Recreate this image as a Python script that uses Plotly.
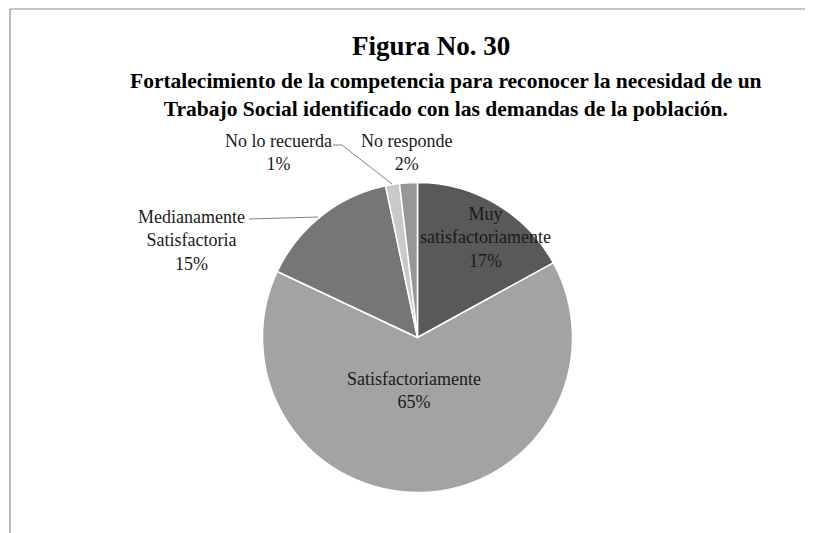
import plotly.graph_objects as go

W, H = 813, 533

# ---- data ----
categories = ["Muy satisfactoriamente", "Satisfactoriamente",
              "Medianamente Satisfactoria", "No lo recuerda", "No responde"]
values = [17, 65, 14.7, 1.45, 1.85]          # percent
colors = ["#595959", "#a3a3a3", "#767676", "#c9c9c9", "#979797"]
label_lines = [["Muy", "satisfactoriamente"], ["Satisfactoriamente"],
               ["Medianamente", "Satisfactoria"], ["No lo recuerda"], ["No responde"]]

title = "Figura No. 30"
subtitle = ["Fortalecimiento de la competencia para reconocer la necesidad de un",
            "Trabajo Social identificado con las demandas de la población."]

total = sum(values)
pct_text = ["{:.0f}%".format(v / total * 100) for v in values]

OFF = 8  # page body margin


def px(x):
    return (x - OFF) / W


def py(y):
    return 1 - (y - OFF) / H


cx, cy, r = 417.5, 337.5, 155

fig = go.Figure(go.Pie(
    labels=categories, values=values, sort=False, direction="clockwise",
    rotation=0, textinfo="none", hoverinfo="label+percent",
    marker=dict(colors=colors, line=dict(color="white", width=1.5)),
    domain=dict(x=[px(cx - r), px(cx + r)], y=[py(cy + r), py(cy - r)]),
    showlegend=False,
))

serif = "Liberation Serif"
lab_font = dict(family=serif, size=18, color="#1a1a1a")

# label positions (text anchor centres, pixels)
label_pos = [(485, 238), (414, 391), (191, 240), (278, 152), (406, 152)]

anns = []
for lines, pct, (lx, ly) in zip(label_lines, pct_text, label_pos):
    anns.append(dict(x=px(lx), y=py(ly), xref="paper", yref="paper",
                     text="<br>".join(lines + [pct]), showarrow=False,
                     xanchor="center", yanchor="middle", align="center",
                     font=lab_font))

anns.append(dict(x=px(431), y=py(46), xref="paper", yref="paper", text="<b>" + title + "</b>",
                 showarrow=False, xanchor="center", yanchor="middle",
                 font=dict(family=serif, size=27, color="black")))
anns.append(dict(x=px(446), y=py(95), xref="paper", yref="paper",
                 text="<b>" + "<br>".join(subtitle) + "</b>",
                 showarrow=False, xanchor="center", yanchor="middle", align="center",
                 font=dict(family=serif, size=21.5, color="black")))

line_col = "#808080"
shapes = [
    # chart frame (top and left)
    dict(type="line", xref="paper", yref="paper", x0=px(10), x1=px(830), y0=py(9), y1=py(9),
         line=dict(color="#8c8c8c", width=1.2)),
    dict(type="line", xref="paper", yref="paper", x0=px(10), x1=px(10), y0=py(9), y1=py(560),
         line=dict(color="#8c8c8c", width=1.2)),
    # leader lines
    dict(type="line", xref="paper", yref="paper", x0=px(249), x1=px(318), y0=py(219), y1=py(217),
         line=dict(color=line_col, width=1)),
    dict(type="path", xref="paper", yref="paper",
         path="M {} {} L {} {} L {} {}".format(px(333), py(145), px(342), py(145), px(392), py(184)),
         line=dict(color=line_col, width=1)),
]

fig.update_layout(width=W, height=H, margin=dict(l=0, r=0, t=0, b=0),
                  paper_bgcolor="white", plot_bgcolor="white",
                  annotations=anns, shapes=shapes)

fig.write_html("out.html")
